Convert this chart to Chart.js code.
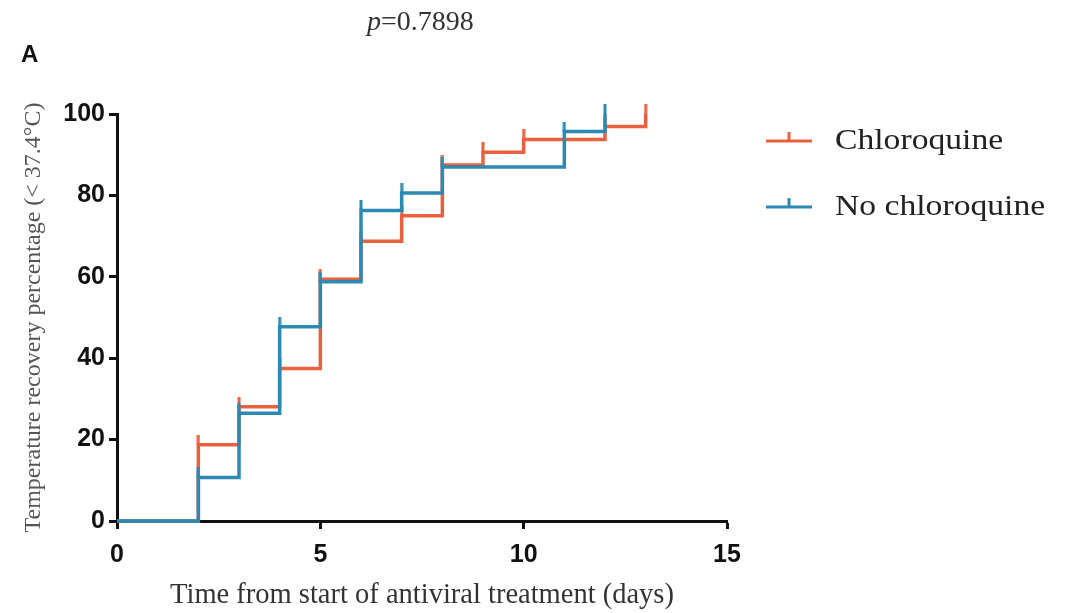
<!DOCTYPE html>
<html>
<head>
<meta charset="utf-8">
<script src="https://cdn.jsdelivr.net/npm/chart.js@4.4.1/dist/chart.umd.min.js"></script>
<style>
  body { margin: 0; background: #fff; }
  #wrap { position: relative; width: 1075px; height: 613px; background: #fff; }
  #panel { position: absolute; left: 21px; top: 42px; font: bold 24px "Liberation Sans", Arial, sans-serif; line-height: 1; color: #111; }
  #pval { position: absolute; left: 367px; top: 7px; font: 28px "Liberation Serif", "Times New Roman", serif; line-height: 1; color: #333; }
  canvas { position: absolute; left: 0; top: 0; }
</style>
</head>
<body>
<div id="wrap">
  <canvas id="kmChart" width="1075" height="613"></canvas>
  <div id="panel">A</div>
  <div id="pval"><i>p</i>=0.7898</div>
</div>
<script>
// Kaplan-Meier style recovery curves (percent recovered by day)
const chloroquineDays = [0, 2, 3, 4, 5, 6, 7, 8, 9, 10, 12, 13];
const chloroquinePct = [0, 18.75, 28.1, 37.5, 59.4, 68.75, 75, 87.5, 90.6, 93.75, 96.9, 100];
const noChloroquineDays = [0, 2, 3, 4, 5, 6, 7, 8, 11, 12];
const noChloroquinePct = [0, 10.7, 26.5, 47.7, 58.8, 76.3, 80.6, 87.0, 95.7, 100];
const seriesLabels = ['Chloroquine', 'No chloroquine'];
const xTickValues = [0, 5, 10, 15];
const yTickValues = [0, 20, 40, 60, 80, 100];

const RED = '#E9603F';
const BLUE = '#2B8AB3';
const SERIF = '"Liberation Serif", "Times New Roman", serif';
const SANS = '"Liberation Sans", Arial, sans-serif';

// small canvas used as point style: a censor tick rising above the point
function censorTick(color) {
    const c = document.createElement('canvas');
    c.width = 4;
    c.height = 20;
    const g = c.getContext('2d');
    g.strokeStyle = color;
    g.lineWidth = 3;
    g.beginPath();
    g.moveTo(2, 0);
    g.lineTo(2, 10);
    g.stroke();
    return c;
}

function toPoints(xs, ys) {
    return xs.map((x, i) => ({ x: x, y: ys[i] }));
}

function curve(label, xs, ys, color, order) {
    return {
        label: label,
        data: toPoints(xs, ys),
        borderColor: color,
        backgroundColor: color,
        borderWidth: 3.5,
        stepped: true,
        fill: false,
        clip: false,
        order: order,
        pointStyle: censorTick(color),
        pointRadius: ctx => ctx.dataIndex === 0 ? 0 : 3
    };
}

// legend drawn to the right of the plot, text slightly widened
const sideLegend = {
    id: 'sideLegend',
    afterDraw(chart) {
        const ctx = chart.ctx;
        chart.data.datasets.forEach((ds, i) => {
            const y = 141 + i * 66;
            ctx.save();
            ctx.strokeStyle = ds.borderColor;
            ctx.lineWidth = 3;
            ctx.beginPath();
            ctx.moveTo(766, y);
            ctx.lineTo(812, y);
            ctx.moveTo(789, y);
            ctx.lineTo(789, y - 9);
            ctx.stroke();
            ctx.fillStyle = '#222';
            ctx.font = '29px ' + SERIF;
            ctx.textBaseline = 'middle';
            ctx.translate(835, y);
            ctx.scale(1.16, 1);
            ctx.fillText(ds.label, 0, 0);
            ctx.restore();
        });
    }
};

const axisGrid = {
    display: true,
    drawOnChartArea: false,
    drawTicks: true,
    tickLength: 8,
    tickWidth: 3,
    tickColor: '#111'
};
const axisBorder = { display: true, color: '#111', width: 3 };

new Chart(document.getElementById('kmChart'), {
    type: 'line',
    data: {
        datasets: [
            curve(seriesLabels[0], chloroquineDays, chloroquinePct, RED, 1),
            curve(seriesLabels[1], noChloroquineDays, noChloroquinePct, BLUE, 0)
        ]
    },
    options: {
        responsive: false,
        animation: false,
        events: [],
        layout: { padding: { top: 114, right: 348, bottom: 0, left: 0 } },
        plugins: {
            legend: { display: false },
            tooltip: { enabled: false }
        },
        scales: {
            x: {
                type: 'linear',
                min: 0,
                max: 15,
                afterBuildTicks: s => { s.ticks = xTickValues.map(v => ({ value: v })); },
                afterFit: s => { s.height = 92; },
                grid: axisGrid,
                border: axisBorder,
                ticks: { color: '#111', padding: 11, maxRotation: 0, font: { family: SANS, size: 25, weight: 'bold' } },
                title: {
                    display: true,
                    text: 'Time from start of antiviral treatment (days)',
                    color: '#333',
                    font: { family: SERIF, size: 28.5 },
                    padding: { top: 0, bottom: 0 }
                }
            },
            y: {
                min: 0,
                max: 100,
                afterBuildTicks: s => { s.ticks = yTickValues.map(v => ({ value: v })); },
                afterFit: s => { s.width = 117; },
                grid: axisGrid,
                border: axisBorder,
                ticks: { color: '#111', padding: 4, font: { family: SANS, size: 25, weight: 'bold' } },
                title: {
                    display: true,
                    text: 'Temperature recovery percentage (< 37.4°C)',
                    color: '#555',
                    font: { family: SERIF, size: 24 },
                    padding: { top: 19, bottom: 0 }
                }
            }
        }
    },
    plugins: [sideLegend]
});
</script>
</body>
</html>
